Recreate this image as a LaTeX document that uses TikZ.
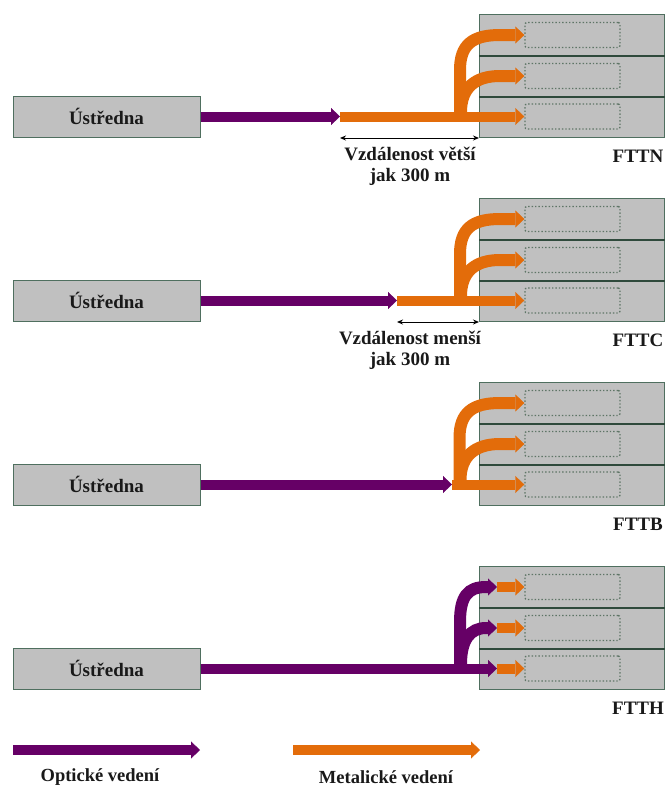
\documentclass[tikz,border=0pt]{standalone}
\usepackage{fontspec}
\setmainfont{Liberation Serif}
\usetikzlibrary{arrows.meta}
\definecolor{fiberc}{HTML}{660066}
\definecolor{copperc}{HTML}{E36C0A}
\definecolor{boxfill}{HTML}{C0C0C0}
\definecolor{boxline}{HTML}{4F6F5F}
\definecolor{rowline}{HTML}{2F4A3C}
\definecolor{dotline}{HTML}{5E7566}
\tikzset{
  gbox/.style={draw=boxline, fill=boxfill, line width=1pt, inner sep=0pt},
  inbox/.style={draw=dotline, dotted, line width=1.4pt, rounded corners=2pt, inner sep=0pt, minimum width=95pt, minimum height=25pt},
  fiber/.style={draw=fiberc, line width=10pt, -{Triangle[length=9pt,width=17pt,line width=0.4pt]}},
  fiberb/.style={draw=fiberc, line width=12pt, -{Triangle[length=9pt,width=17pt,line width=0.4pt]}},
  copper/.style={draw=copperc, line width=10pt, -{Triangle[length=9pt,width=17pt,line width=0.4pt]}},
  copperb/.style={draw=copperc, line width=12pt, -{Triangle[length=9pt,width=17pt,line width=0.4pt]}},
  dimline/.style={draw=black, line width=1pt, {Stealth[length=6pt,width=5pt]}-{Stealth[length=6pt,width=5pt]}},
  lbl/.style={font=\bfseries\fontsize{19}{21}\selectfont, align=center, inner sep=0pt, text=black!90},
  leg/.style={font=\bfseries\fontsize{18.5}{21}\selectfont, inner sep=0pt, text=black!90},
}
\newcommand\mypanel[2]{%
  \node[gbox, lbl, minimum width=187pt, minimum height=41pt] (u#1) at (106.5,116.5) {Ústředna};
  \node[gbox, anchor=north west, minimum width=185pt, minimum height=41pt] (r#1a) at (479,14) {};
  \node[gbox, anchor=north west, minimum width=185pt, minimum height=41pt] (r#1b) at (479,55) {};
  \node[gbox, anchor=north west, minimum width=185pt, minimum height=41pt] (r#1c) at (479,96) {};
  \draw[rowline, line width=1.2pt] (r#1a.south west) -- (r#1a.south east) (r#1b.south west) -- (r#1b.south east);
  \node[inbox] (d#1a) at (572.5,35) {};
  \node[inbox] (d#1b) at (572.5,76) {};
  \node[inbox] (d#1c) at (572.5,116.5) {};
  \node[lbl] (t#1) at (638,156) {#2};
}
\begin{document}
\begin{tikzpicture}[x=1pt, y=-1pt]
\useasboundingbox (0,0) rectangle (666,790);

% ---------- FTTN ----------
\begin{scope}
\mypanel{1}{FTTN}
\coordinate (j1) at (340,116.5);
\coordinate (k1) at (460,121.5);
\coordinate (m1) at (461,112);
\draw[copper] (j1) -- (d1c.west);
\draw[copperb] (k1) -- (460,70) .. controls (460,45) and (472,35) .. (500,35) -- (d1a.west);
\draw[copperb] (m1) .. controls (461,88) and (475,76) .. (500,76) -- (d1b.west);
\draw[fiber] (u1.east) -- (j1);
\draw[dimline] (j1 |- r1c.south west) -- (r1c.south west);
\node[lbl] (v1) at (410,166) {Vzdálenost větší\\jak 300 m};
\end{scope}

% ---------- FTTC ----------
\begin{scope}[yshift=-184pt]
\mypanel{2}{FTTC}
\coordinate (j2) at (397,116.5);
\coordinate (k2) at (460,121.5);
\coordinate (m2) at (461,112);
\draw[copper] (j2) -- (d2c.west);
\draw[copperb] (k2) -- (460,70) .. controls (460,45) and (472,35) .. (500,35) -- (d2a.west);
\draw[copperb] (m2) .. controls (461,88) and (475,76) .. (500,76) -- (d2b.west);
\draw[fiber] (u2.east) -- (j2);
\draw[dimline] (j2 |- r2c.south west) -- (r2c.south west);
\node[lbl] (v2) at (410,166) {Vzdálenost menší\\jak 300 m};
\end{scope}

% ---------- FTTB ----------
\begin{scope}[yshift=-368pt]
\mypanel{3}{FTTB}
\coordinate (j3) at (452,116.5);
\coordinate (k3) at (459.5,121.5);
\coordinate (m3) at (460.5,112);
\draw[copper] (j3) -- (d3c.west);
\draw[copperb] (k3) -- (459.5,70) .. controls (459.5,45) and (472,35) .. (500,35) -- (d3a.west);
\draw[copperb] (m3) .. controls (460.5,88) and (475,76) .. (500,76) -- (d3b.west);
\draw[fiber] (u3.east) -- (j3);
\end{scope}

% ---------- FTTH ----------
\begin{scope}[yshift=-552pt]
\mypanel{4}{FTTH}
\coordinate (j4) at (497,116.5);
\coordinate (e4a) at (497,35);
\coordinate (e4b) at (497,76);
\coordinate (k4) at (460,121.5);
\coordinate (m4) at (461,112);
\draw[copper] (j4) -- (d4c.west);
\draw[copper] (e4a) -- (d4a.west);
\draw[copper] (e4b) -- (d4b.west);
\draw[fiberb] (k4) -- (460,70) .. controls (460,44) and (468,35) .. (486,35) -- (e4a);
\draw[fiberb] (m4) .. controls (461,88) and (470,76) .. (486,76) -- (e4b);
\draw[fiber] (u4.east) -- (j4);
\end{scope}

% ---------- legend ----------
\coordinate (lo1) at (13,750);
\coordinate (lo2) at (200,750);
\coordinate (lm1) at (293,750);
\coordinate (lm2) at (480,750);
\draw[fiber] (lo1) -- (lo2);
\draw[copper] (lm1) -- (lm2);
\node[leg] (lo) at (100,777) {Optické vedení};
\node[leg] (lm) at (386,777) {Metalické vedení};
\end{tikzpicture}
\end{document}
